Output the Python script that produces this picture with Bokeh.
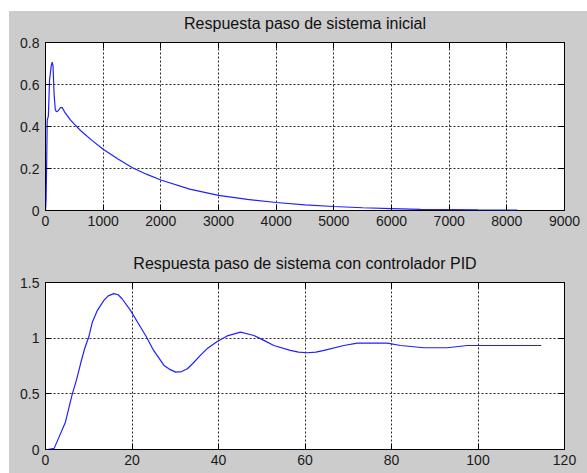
from bokeh.plotting import figure
from bokeh.layouts import column
from bokeh.models import (FixedTicker, LinearAxis, Range1d, CustomJSTickFormatter,
                          CustomLabelingPolicy, ColumnDataSource, Title)
from bokeh.embed import file_html
from bokeh.resources import INLINE

# Step response of the initial (open) system
t_inicial = [0, 10, 20, 30, 50, 70, 100, 116, 130, 150, 170, 190, 220, 260, 290,
             330, 434, 500, 607, 800, 1000, 1250, 1500, 1750, 2000, 2500, 3000,
             3500, 4000, 4500, 5000, 5500, 6000, 6500, 7000, 7500, 8180]
y_inicial = [0, 0.05, 0.22, 0.43, 0.45, 0.62, 0.69, 0.706, 0.69, 0.55, 0.48, 0.47,
             0.475, 0.49, 0.49, 0.47, 0.43, 0.411, 0.381, 0.335, 0.292, 0.246, 0.205,
             0.173, 0.145, 0.102, 0.072, 0.053, 0.038, 0.027, 0.019, 0.013, 0.009,
             0.005, 0.004, 0.003, 0.002]

# Step response with the PID controller
t_pid = [0.5, 2, 3, 4.6, 6.2, 7.2, 8.1, 9.0, 10.0, 10.8, 12.0, 13.5, 14.5, 15.8,
         16.8, 17.7, 19.65, 21.5, 23.35, 25.0, 27.4, 28.7, 30.1, 31.5, 32.8, 34.0,
         35.8, 37.5, 39.7, 42.0, 45.1, 48.2, 50.5, 52.8, 56.6, 58.5, 60.5, 62.5,
         64.4, 69.0, 72.1, 79.0, 82.1, 87.5, 92.9, 97.5, 114.6]
y_pid = [0, 0.01, 0.1, 0.245, 0.5, 0.63, 0.77, 0.9, 1.01, 1.14, 1.25, 1.34, 1.38,
         1.40, 1.39, 1.354, 1.25, 1.13, 1.01, 0.89, 0.755, 0.72, 0.695, 0.70, 0.725,
         0.77, 0.845, 0.91, 0.97, 1.02, 1.054, 1.024, 0.98, 0.934, 0.89, 0.875,
         0.869, 0.875, 0.89, 0.934, 0.955, 0.955, 0.934, 0.914, 0.914, 0.934, 0.934]

x_ticks_1 = [0, 1000, 2000, 3000, 4000, 5000, 6000, 7000, 8000, 9000]
y_ticks_1 = [0, 0.2, 0.4, 0.6, 0.8]
x_ticks_2 = [0, 20, 40, 60, 80, 100, 120]
y_ticks_2 = [0, 0.5, 1, 1.5]

titulo_1 = "Respuesta paso de sistema inicial"
titulo_2 = "Respuesta paso de sistema con controlador PID"

GRAY = "#cccccc"
FONT = "Liberation Sans"
fmt = CustomJSTickFormatter(code="return String(Math.round(tick * 1000) / 1000);")


def make_axes(p, xt, yt):
    p.xaxis.ticker = FixedTicker(ticks=xt)
    p.yaxis.ticker = FixedTicker(ticks=yt)
    for ax in (p.xaxis[0], p.yaxis[0]):
        ax.formatter = fmt
        ax.major_tick_in = 6
        ax.major_tick_out = 0
        ax.minor_tick_in = 0
        ax.minor_tick_out = 0
        ax.axis_line_color = None
        ax.major_tick_line_color = "black"
        ax.major_label_text_font = FONT
        ax.major_label_text_font_size = "14px"
        ax.major_label_text_color = "#1a1a1a"
    p.xaxis.major_label_standoff = 5
    p.yaxis.major_label_standoff = 6
    # tick marks (without labels) on the top and right edges of the box
    for loc, tk in (("above", xt), ("right", yt)):
        ax = LinearAxis(ticker=FixedTicker(ticks=tk), formatter=fmt,
                        major_label_policy=CustomLabelingPolicy(code="return false"))
        ax.major_tick_in = 6
        ax.major_tick_out = 0
        ax.minor_tick_in = 0
        ax.minor_tick_out = 0
        ax.axis_line_color = None
        ax.major_label_standoff = 0
        p.add_layout(ax, loc)
    for g in (p.xgrid[0], p.ygrid[0]):
        g.grid_line_color = "black"
        g.grid_line_dash = "2 2"
        g.grid_line_width = 1
        g.grid_line_alpha = 0.85
    p.xgrid.ticker = FixedTicker(ticks=xt)
    p.ygrid.ticker = FixedTicker(ticks=yt)
    p.outline_line_color = "black"
    p.outline_line_width = 1


def make_fig(h, top, bottom, title, xr, yr, xt, yt):
    p = figure(width=578, height=h, x_range=Range1d(*xr), y_range=Range1d(*yr),
               output_backend="svg", toolbar_location=None,
               min_border_left=36, min_border_right=23,
               min_border_top=top, min_border_bottom=bottom)
    p.background_fill_color = "white"
    p.border_fill_color = GRAY
    make_axes(p, xt, yt)
    p.add_layout(Title(text=title, align="center", text_font=FONT,
                       text_font_size="16px", text_font_style="normal",
                       text_color="#111111", standoff=0), "above")
    return p


p1 = make_fig(234, 31, 35, titulo_1, (0, 9000), (0, 0.8), x_ticks_1, y_ticks_1)
p1.line("t", "y", source=ColumnDataSource(dict(t=t_inicial, y=y_inicial)),
        line_color="#2020ff", line_width=1.2)

p2 = make_fig(228, 37, 24, titulo_2, (0, 120), (0, 1.5), x_ticks_2, y_ticks_2)
p2.line("t", "y", source=ColumnDataSource(dict(t=t_pid, y=y_pid)),
        line_color="#2020ff", line_width=1.2)

layout = column(p1, p2, spacing=0, margin=(11, 0, 0, 9),
                styles={"background-color": GRAY})
open("out.html", "w").write(file_html(layout, INLINE))
